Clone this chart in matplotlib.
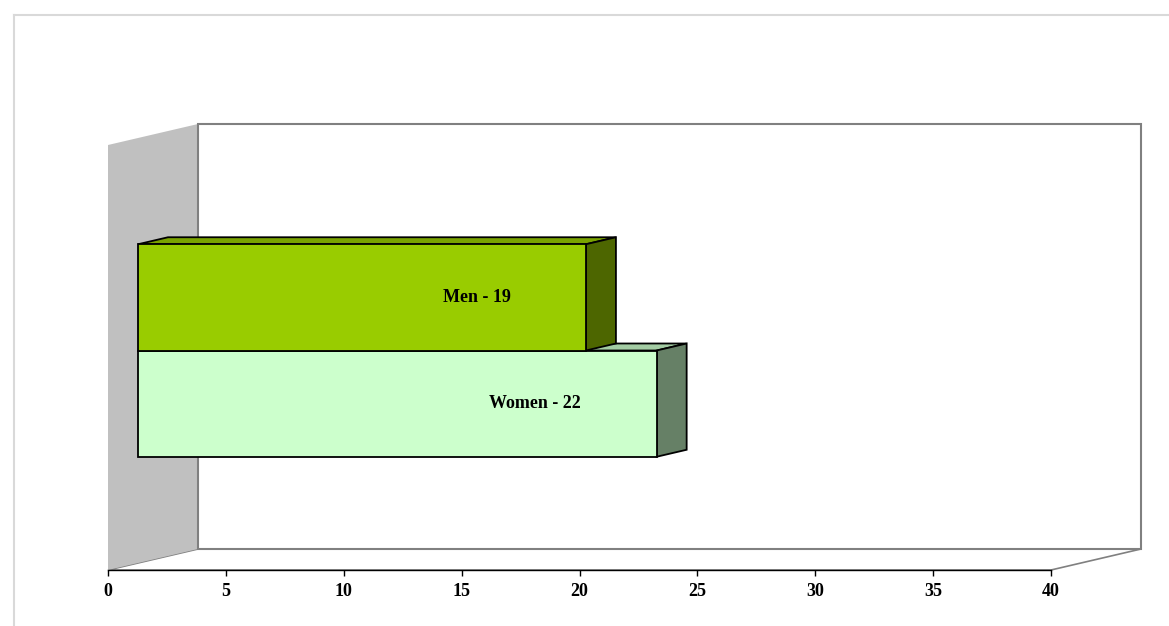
import matplotlib
matplotlib.use("Agg")
import matplotlib.pyplot as plt
from matplotlib.patches import Polygon, Rectangle
from matplotlib.lines import Line2D

# data
series = ["Women", "Men"]
values = [22, 19]
front_colors = ["#CCFFCC", "#99CC00"]
top_colors = ["#A3CCA3", "#7AA300"]
side_colors = ["#668066", "#4D6600"]
x_ticks = [0, 5, 10, 15, 20, 25, 30, 35, 40]

W, H = 1169, 626
fig = plt.figure(figsize=(W / 100, H / 100), dpi=100)
fig.patch.set_facecolor("white")

# light frame round the chart area
fig.add_artist(Line2D([14 / W, 14 / W], [0, 1 - 15 / H], color="#D9D9D9", lw=1.5))
fig.add_artist(Line2D([14 / W, 1], [1 - 15 / H, 1 - 15 / H], color="#D9D9D9", lw=1.5))

ax = fig.add_axes([108 / W, (H - 570) / H, 943 / W, 425 / H])
ax.set_xlim(0, 40)
ax.set_ylim(0, 4)
ax.set_facecolor("none")

# depth of the box in data units (90 px right, 21 px up)
px_x = 40 / 943
px_y = 4 / 425
dx, dy = 90 * px_x, 21 * px_y
bx, by = dx / 3, dy / 3

# floor, left wall, back wall
ax.add_patch(Polygon([(0, 0), (40, 0), (40 + dx, dy), (dx, dy)], closed=True,
                     facecolor="white", edgecolor="#808080", lw=1.2, clip_on=False, zorder=1))
ax.add_patch(Polygon([(0, 0), (dx, dy), (dx, 4 + dy), (0, 4)], closed=True,
                     facecolor="#C0C0C0", edgecolor="none", clip_on=False, zorder=1))
ax.add_patch(Rectangle((dx, dy), 40, 4, facecolor="white", edgecolor="#808080",
                       lw=1.5, clip_on=False, zorder=1))

# bars
for i, (name, v) in enumerate(zip(series, values)):
    y0 = 1 + i
    y1 = y0 + 1
    front = Rectangle((bx, y0 + by), v, 1, facecolor=front_colors[i],
                      edgecolor="black", lw=1.3, clip_on=False, zorder=3)
    top = Polygon([(bx, y1 + by), (v + bx, y1 + by), (v + 2 * bx, y1 + 2 * by), (2 * bx, y1 + 2 * by)],
                  closed=True, facecolor=top_colors[i], edgecolor="black", lw=1.3, clip_on=False, zorder=3)
    side = Polygon([(v + bx, y0 + by), (v + 2 * bx, y0 + 2 * by), (v + 2 * bx, y1 + 2 * by), (v + bx, y1 + by)],
                   closed=True, facecolor=side_colors[i], edgecolor="black", lw=1.3, clip_on=False, zorder=3)
    ax.add_patch(top)
    ax.add_patch(side)
    ax.add_patch(front)
    ax.text(v + bx - 3.2, (y0 + y1) / 2 + by, f"{name} - {v}", ha="right", va="center",
            fontsize=13, fontweight="bold", family="Liberation Serif", zorder=4)

for s in ["top", "right", "left"]:
    ax.spines[s].set_visible(False)
ax.spines["bottom"].set_color("black")
ax.spines["bottom"].set_linewidth(1.0)
ax.spines["bottom"].set_zorder(5)
ax.set_yticks([])
ax.set_xticks(x_ticks)
ax.set_xticklabels([str(t) for t in x_ticks], fontsize=13, fontweight="bold", family="Liberation Serif")
ax.tick_params(axis="x", direction="out", length=4, width=1.0, color="black", pad=5)

fig.savefig("out.png", dpi=100)
